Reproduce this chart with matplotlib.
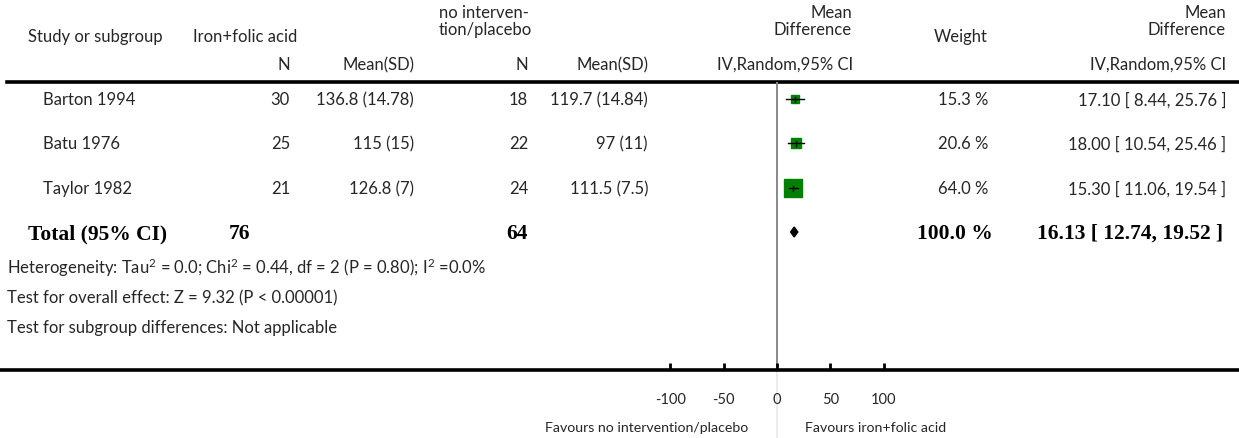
import matplotlib
matplotlib.use("Agg")
import matplotlib.pyplot as plt

# study data
studies = ["Barton 1994", "Batu 1976", "Taylor 1982"]
n_iron = [30, 25, 21]
msd_iron = ["136.8 (14.78)", "115 (15)", "126.8 (7)"]
n_ctrl = [18, 22, 24]
msd_ctrl = ["119.7 (14.84)", "97 (11)", "111.5 (7.5)"]
md = [17.10, 18.00, 15.30]
ci_lo = [8.44, 10.54, 11.06]
ci_hi = [25.76, 25.46, 19.54]
weights = [15.3, 20.6, 64.0]

total_n_iron = 76
total_n_ctrl = 64
total_md = 16.13
total_lo = 12.74
total_hi = 19.52
total_weight = 100.0

ticks = [-100, -50, 0, 50, 100]
heterogeneity = "Heterogeneity: Tau$^{2}$ = 0.0; Chi$^{2}$ = 0.44, df = 2 (P = 0.80); I$^{2}$ =0.0%"
overall = "Test for overall effect: Z = 9.32 (P < 0.00001)"
subgroup = "Test for subgroup differences: Not applicable"

W, H = 1239, 439
row_y = [100, 144, 189]
total_y = 234
zero_px = 777
px_per_unit = 53.33 / 50

plt.rcParams["font.family"] = ["Lato", "DejaVu Sans"]
plt.rcParams["mathtext.fontset"] = "custom"
plt.rcParams["mathtext.rm"] = "Lato"
plt.rcParams["mathtext.it"] = "Lato"
plt.rcParams["mathtext.default"] = "regular"
fs = 12
bfs = 15.5
serif = "Liberation Serif"
hc = "#262626"

fig = plt.figure(figsize=(W / 100, H / 100), dpi=100)

# text layer in pixel coordinates
tab = fig.add_axes([0, 0, 1, 1])
tab.set_xlim(0, W)
tab.set_ylim(H, 0)
tab.axis("off")

# forest plot layer
fx = fig.add_axes([0, (H - 371) / H, 1, (371 - 83) / H])
fx.set_xlim(-zero_px / px_per_unit, (W - zero_px) / px_per_unit)
fx.set_ylim(371, 83)
fx.patch.set_alpha(0)
for s in ["top", "left", "right"]:
    fx.spines[s].set_visible(False)
fx.spines["bottom"].set_linewidth(2.6)
fx.set_yticks([])
fx.set_xticks(ticks)
fx.set_xticklabels([str(t) for t in ticks])
fx.tick_params(axis="x", direction="in", length=5, width=2, pad=16,
               labelsize=10.5, labelcolor=hc)
fx.axvline(0, color="#888888", lw=1.4, zorder=1)
tab.plot([zero_px, zero_px], [371, H], color="#e8e8e8", lw=1.2)

tab.plot([7, W], [83, 83], color="black", lw=2.6)

# headers
tab.text(28, 37, "Study or subgroup", fontsize=fs, color=hc, va="center")
tab.text(297, 37, "Iron+folic acid", fontsize=fs, color=hc, va="center", ha="right")
tab.text(439, 13, "no interven-", fontsize=fs, color=hc, va="center")
tab.text(439, 30, "tion/placebo", fontsize=fs, color=hc, va="center")
tab.text(852, 13, "Mean", fontsize=fs, color=hc, va="center", ha="right")
tab.text(852, 30, "Difference", fontsize=fs, color=hc, va="center", ha="right")
tab.text(988, 37, "Weight", fontsize=fs, color=hc, va="center", ha="right")
tab.text(1226, 13, "Mean", fontsize=fs, color=hc, va="center", ha="right")
tab.text(1226, 30, "Difference", fontsize=fs, color=hc, va="center", ha="right")
for x, t in [(290, "N"), (414, "Mean(SD)"), (528, "N"), (648, "Mean(SD)"),
             (853, "IV,Random,95% CI"), (1226, "IV,Random,95% CI")]:
    tab.text(x, 65, t, fontsize=fs, color=hc, va="center", ha="right")

# study rows
for i, y in enumerate(row_y):
    tab.text(43, y, studies[i], fontsize=fs, color=hc, va="center")
    tab.text(290, y, str(n_iron[i]), fontsize=fs, color=hc, va="center", ha="right")
    tab.text(414, y, msd_iron[i], fontsize=fs, color=hc, va="center", ha="right")
    tab.text(528, y, str(n_ctrl[i]), fontsize=fs, color=hc, va="center", ha="right")
    tab.text(648, y, msd_ctrl[i], fontsize=fs, color=hc, va="center", ha="right")
    tab.text(988, y, f"{weights[i]:.1f} %", fontsize=fs, color=hc, va="center", ha="right")
    tab.text(1226, y, f"{md[i]:.2f} [ {ci_lo[i]:.2f}, {ci_hi[i]:.2f} ]",
             fontsize=fs, color=hc, va="center", ha="right")
    fx.plot([ci_lo[i], ci_hi[i]], [y, y], color="black", lw=1, zorder=3)
    size = 2.2 * weights[i] ** 0.5 / 1.389
    fx.plot(md[i], y, marker="s", ms=size, color="#008000", mec="#008000", zorder=2)
    fx.plot([md[i], md[i]], [y - 2.5, y + 2.5], color="black", lw=1, zorder=3)

# total row
tab.text(28, total_y, "Total (95% CI)", fontsize=bfs, fontweight="bold",
         family=serif, va="center")
tab.text(250, total_y, str(total_n_iron), fontsize=bfs, fontweight="bold",
         family=serif, va="center", ha="right")
tab.text(528, total_y, str(total_n_ctrl), fontsize=bfs, fontweight="bold",
         family=serif, va="center", ha="right")
tab.text(993, total_y, f"{total_weight:.1f} %", fontsize=bfs, fontweight="bold",
         family=serif, va="center", ha="right")
tab.text(1223, total_y, f"{total_md:.2f} [ {total_lo:.2f}, {total_hi:.2f} ]",
         fontsize=bfs, fontweight="bold", family=serif, va="center", ha="right")
fx.fill([total_lo, total_md, total_hi, total_md],
        [total_y - 1, total_y - 6, total_y - 1, total_y + 4], color="black", zorder=3)

tab.text(7, 268, heterogeneity, fontsize=fs, color=hc, va="center")
tab.text(7, 298, overall, fontsize=fs, color=hc, va="center")
tab.text(7, 328, subgroup, fontsize=fs, color=hc, va="center")

tab.text(zero_px - 29, 428, "Favours no intervention/placebo", fontsize=10.2,
         color=hc, va="center", ha="right")
tab.text(zero_px + 28, 428, "Favours iron+folic acid", fontsize=10.2,
         color=hc, va="center", ha="left")

fig.savefig("out.png", dpi=100)
